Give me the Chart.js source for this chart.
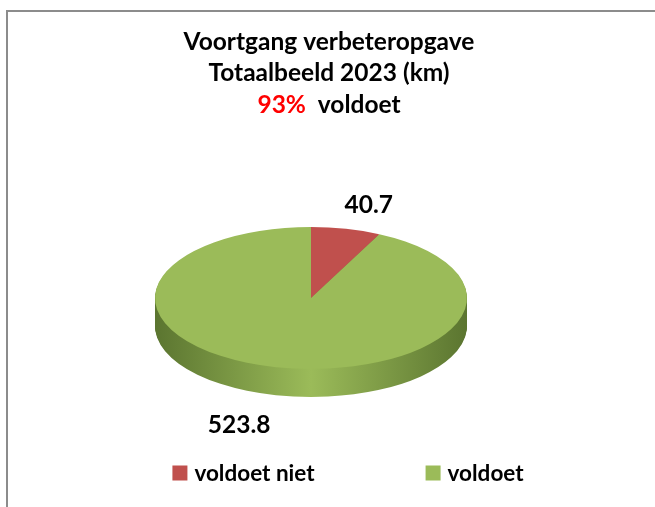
<!DOCTYPE html>
<html>
<head>
<meta charset="utf-8">
<script src="https://cdn.jsdelivr.net/npm/chart.js@4.4.0/dist/chart.umd.min.js"></script>
<style>
  body { margin: 0; background: #fff; }
  #wrap { position: relative; width: 655px; height: 507px; overflow: hidden; }
  #frame { position: absolute; left: 6px; top: 10px; width: 700px; height: 600px; border: 2px solid #8c8c8c; box-sizing: border-box; }
  canvas { position: absolute; left: 0; top: 0; }
</style>
</head>
<body>
<div id="wrap">
  <div id="frame"></div>
  <canvas id="chart" width="655" height="507"></canvas>
</div>
<script>
// data
const categories = ["voldoet niet", "voldoet"];
const values = [40.7, 523.8];
const sliceColors = ["#c0504d", "#9bbb59"];
const sideColors = [["#7d2f2d", "#a34543"], ["#5b7530", "#9bbb59"]];
const titleLines = ["Voortgang verbeteropgave", "Totaalbeeld 2023 (km)"];
const okIndex = 1;

const FONT = 'Lato, "Open Sans", sans-serif';
const TILT = 71 / 156;   // vertical squash of the pie
const DEPTH = 28;        // thickness of the 3d side

function squash(ctx, cx, cy) {
    ctx.translate(cx, cy);
    ctx.scale(1, TILT);
    ctx.translate(-cx, -cy);
}

// draw an arc element with another fill
function drawArcWith(arc, ctx, fill) {
    const proxy = Object.create(arc);
    proxy.options = Object.assign({}, arc.options, {backgroundColor: fill});
    arc.draw.call(proxy, ctx);
}

const pie3d = {
    id: "pie3d",
    beforeDatasetsDraw(chart) {
        const ctx = chart.ctx;
        const arcs = chart.getDatasetMeta(0).data;
        const cx = arcs[0].x, cy = arcs[0].y, R = arcs[0].outerRadius;
        const fills = sideColors.map(c => {
            const g = ctx.createLinearGradient(cx - R, 0, cx + R, 0);
            g.addColorStop(0, c[0]);
            g.addColorStop(0.5, c[1]);
            g.addColorStop(1, c[0]);
            return g;
        });
        for (let d = DEPTH; d > 0; d--) {
            ctx.save();
            ctx.translate(0, d);
            squash(ctx, cx, cy);
            arcs.forEach((arc, i) => drawArcWith(arc, ctx, fills[i]));
            ctx.restore();
        }
        ctx.save();
        squash(ctx, cx, cy);
    },
    afterDatasetsDraw(chart) {
        chart.ctx.restore();
    },
    afterDraw(chart) {
        const ctx = chart.ctx;
        const arcs = chart.getDatasetMeta(0).data;
        const cx = arcs[0].x, cy = arcs[0].y, R = arcs[0].outerRadius;
        ctx.save();
        ctx.textAlign = "center";
        ctx.textBaseline = "alphabetic";
        ctx.fillStyle = "#000";

        // title
        const tx = 329;
        ctx.font = "bold 24.5px " + FONT;
        ctx.fillText(titleLines[0], tx, 50);
        ctx.fillText(titleLines[1], tx, 81);
        const total = values.reduce((a, b) => a + b, 0);
        const pct = Math.round(values[okIndex] / total * 100) + "%";
        const rest = "  " + categories[okIndex];
        const w1 = ctx.measureText(pct).width, w2 = ctx.measureText(rest).width;
        let x0 = tx - (w1 + w2) / 2;
        ctx.textAlign = "left";
        ctx.fillStyle = "#ff0000";
        ctx.fillText(pct, x0, 113);
        ctx.fillStyle = "#000";
        ctx.fillText(rest, x0 + w1, 113);

        // data labels
        ctx.textAlign = "center";
        ctx.textBaseline = "middle";
        arcs.forEach((arc, i) => {
            const a = (arc.startAngle + arc.endAngle) / 2;
            const lx = cx + Math.cos(a) * R * 1.85 - 7;
            let ly = cy + Math.sin(a) * R * TILT * 1.35;
            if (Math.sin(a) > 0) ly += DEPTH + 6;
            ctx.fillText(values[i].toFixed(1), lx, ly);
        });

        // legend
        ctx.font = "bold 22.5px " + FONT;
        ctx.textAlign = "left";
        const box = 15, gap = 7, itemGap = 111, ly = 473;
        const widths = categories.map(c => box + gap + ctx.measureText(c).width);
        let lx = 348 - (widths.reduce((a, b) => a + b, 0) + itemGap) / 2;
        categories.forEach((c, i) => {
            ctx.fillStyle = sliceColors[i];
            ctx.fillRect(lx, ly - box / 2, box, box);
            ctx.fillStyle = "#000";
            ctx.fillText(c, lx + box + gap, ly + 1);
            lx += widths[i] + itemGap;
        });
        ctx.restore();
    }
};

new Chart(document.getElementById("chart"), {
    type: "pie",
    data: {
        labels: categories,
        datasets: [{
            data: values,
            backgroundColor: sliceColors,
            borderWidth: 0,
            hoverOffset: 0,
            offset: 0
        }]
    },
    options: {
        responsive: false,
        animation: false,
        events: [],
        layout: { padding: { left: 155, right: 188, top: 142, bottom: 53 } },
        plugins: {
            legend: { display: false },
            title: { display: false },
            tooltip: { enabled: false }
        }
    },
    plugins: [pie3d]
});
</script>
</body>
</html>
